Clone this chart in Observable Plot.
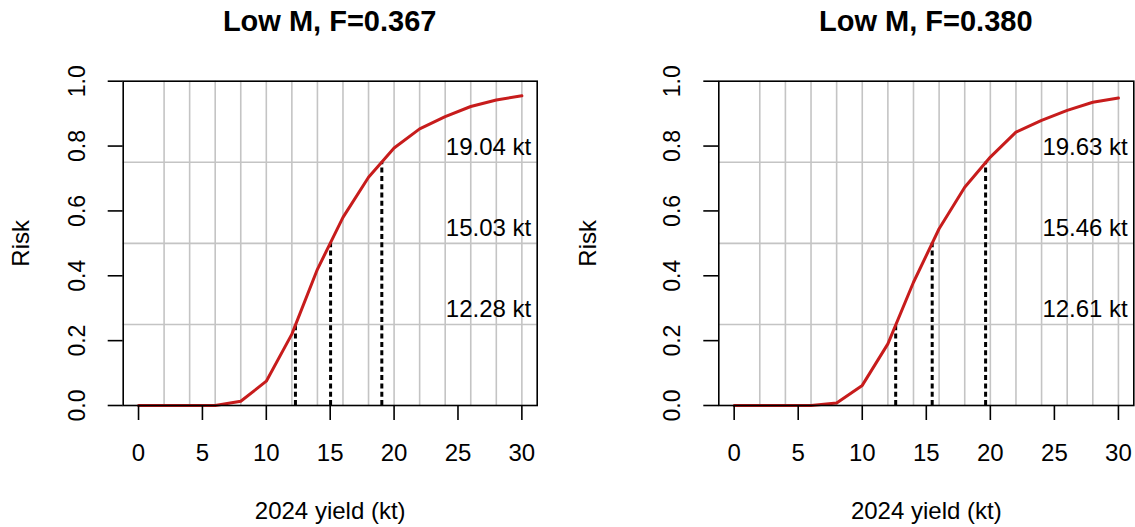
<!DOCTYPE html>
<html>
<head>
<meta charset="utf-8">
<script src="https://cdn.jsdelivr.net/npm/d3@7"></script>
<script src="https://cdn.jsdelivr.net/npm/@observablehq/plot@0.6"></script>
<style>
  html, body { margin: 0; padding: 0; background: #fff; }
  #root { position: relative; width: 1135px; height: 527px; overflow: hidden; background: #fff;
          font-family: "Liberation Sans", Arial, sans-serif; }
  .title { position: absolute; top: 7px; font-weight: bold; font-size: 29px; line-height: 29px;
           text-align: center; color: #000; white-space: nowrap; }
  .panel { position: absolute; top: 60px; }
</style>
</head>
<body>
<div id="root"></div>
<script>
// ---- data ----
const yieldKt = [0, 2, 4, 6, 8, 10, 12, 14, 16, 18, 20, 22, 24, 26, 28, 30];
const riskLeft = [0, 0, 0, 0, 0.013, 0.075, 0.22, 0.42, 0.58, 0.704, 0.794, 0.853, 0.891, 0.922, 0.942, 0.955];
const riskRight = [0, 0, 0, 0, 0.008, 0.062, 0.19, 0.38, 0.545, 0.673, 0.766, 0.843, 0.879, 0.91, 0.935, 0.948];
const riskLevels = [0.25, 0.5, 0.75];
const quantLeft = [12.28, 15.03, 19.04];
const quantRight = [12.61, 15.46, 19.63];
const titles = ["Low M, F=0.367", "Low M, F=0.380"];
const xTicks = [0, 5, 10, 15, 20, 25, 30];
const yTicks = [0, 0.2, 0.4, 0.6, 0.8, 1.0];
const yTickLabels = ["0.0", "0.2", "0.4", "0.6", "0.8", "1.0"];
const xGrid = [2, 4, 6, 8, 10, 12, 14, 16, 18, 20, 22, 24, 26, 28, 30];
const xLabel = "2024 yield (kt)";
const yLabel = "Risk";

const root = document.getElementById("root");

function panel({left, width, marginLeft, marginRight, risk, quant, title}) {
  const curve = yieldKt.map((x, i) => ({x, y: risk[i]}));
  const qs = quant.map((q, i) => ({q, level: riskLevels[i]}));
  const yt = yTicks.map((v, i) => ({v, label: yTickLabels[i]}));
  const H = 467;
  const chart = Plot.plot({
    width, height: H,
    marginLeft, marginRight, marginTop: 20.7, marginBottom: 122,
    style: {fontFamily: '"Liberation Sans", Arial, sans-serif', fontSize: "24px", background: "#fff", overflow: "visible", color: "#000"},
    x: {domain: [-1.2, 31.2]},
    y: {domain: [0, 1]},
    marks: [
      Plot.ruleX(xGrid, {stroke: "#c4c4c4", strokeWidth: 1.6}),
      Plot.ruleY(riskLevels, {stroke: "#c4c4c4", strokeWidth: 1.6}),
      Plot.ruleX(qs, {x: "q", y1: 0, y2: "level", stroke: "#000", strokeWidth: 3, strokeDasharray: "5,3.3"}),
      Plot.line(curve, {x: "x", y: "y", stroke: "#c71c1c", strokeWidth: 3}),
      Plot.text(qs, {y: "level", frameAnchor: "right", text: d => `${d.q.toFixed(2)} kt`, textAnchor: "end", lineAnchor: "bottom", dx: -6, dy: -7, fontSize: 24, fill: "#000"}),
      Plot.frame({stroke: "#000", strokeWidth: 1.6}),
      Plot.axisX({ticks: xTicks, tickSize: 15, tickPadding: 23, fontSize: 24, strokeWidth: 1.6, label: null, tickFormat: d => String(d)}),
      Plot.axisY({ticks: yTicks, tickSize: 15, strokeWidth: 1.6, label: null, tickFormat: () => ""}),
      Plot.text(yt, {y: "v", text: "label", frameAnchor: "left", rotate: -90, textAnchor: "middle", lineAnchor: "bottom", dx: -38.7, fontSize: 23, fill: "#000"}),
      Plot.text([yLabel], {text: d => d, frameAnchor: "left", rotate: -90, textAnchor: "middle", lineAnchor: "bottom", dx: -(marginLeft - 28.3), fontSize: 24, fill: "#000"}),
      Plot.text([xLabel], {text: d => d, frameAnchor: "bottom", textAnchor: "middle", lineAnchor: "bottom", dy: 113, fontSize: 24, fill: "#000"})
    ]
  });
  chart.classList.add("panel");
  chart.style.left = left + "px";
  root.appendChild(chart);

  const t = document.createElement("div");
  t.className = "title";
  t.textContent = title;
  const boxL = left + marginLeft, boxR = left + width - marginRight;
  const cx = (boxL + boxR) / 2;
  t.style.left = (cx - 200) + "px";
  t.style.width = "400px";
  root.appendChild(t);
}

panel({left: 0, width: 567, marginLeft: 122.7, marginRight: 30.3, risk: riskLeft, quant: quantLeft, title: titles[0]});
panel({left: 567, width: 568, marginLeft: 151.3, marginRight: 1.7, risk: riskRight, quant: quantRight, title: titles[1]});
</script>
</body>
</html>
